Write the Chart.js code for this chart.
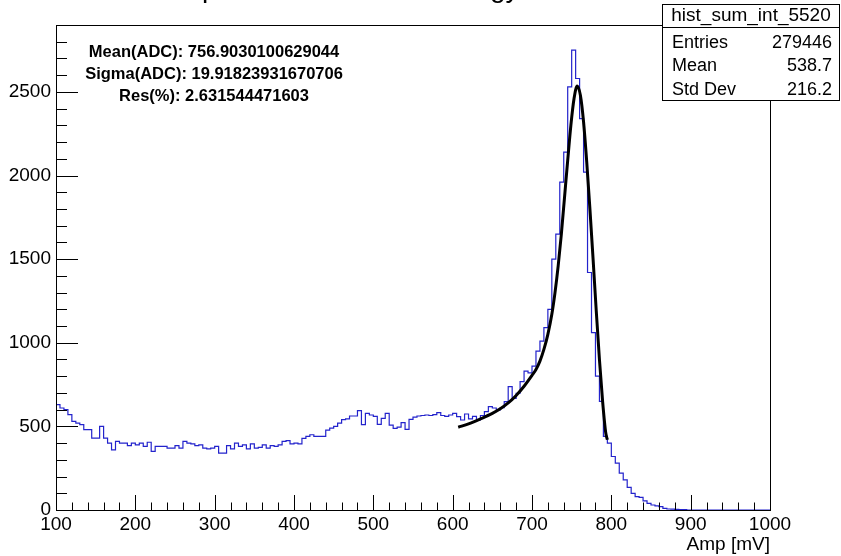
<!DOCTYPE html>
<html>
<head>
<meta charset="utf-8">
<script src="https://cdn.jsdelivr.net/npm/chart.js@4.4.1/dist/chart.umd.min.js"></script>
<style>
  html, body { margin: 0; padding: 0; background: #fff; }
</style>
</head>
<body>
<canvas id="c" width="841" height="556"></canvas>
<script>
// histogram: 5 mV bins starting at 100 mV, counts
const binStart = 100;
const binWidth = 5;
const counts = [
  680, 630, 610, 600, 570, 530, 520, 510, 480, 480,   // 100-145
  430, 430, 500, 430, 400, 360, 410, 400, 400, 385,   // 150-195
  400, 390, 400, 380, 405, 350, 380, 380, 380, 370,   // 200-245
  370, 385, 370, 410, 400, 395, 385, 390, 370, 365,   // 250-295
  370, 380, 340, 340, 385, 365, 400, 380, 390, 365,   // 300-345
  395, 370, 375, 390, 370, 385, 380, 390, 410, 415,   // 350-395
  395, 400, 395, 428, 440, 450, 440, 440, 440, 478,   // 400-445
  490, 500, 520, 540, 545, 562, 562, 594, 510, 578,   // 450-495
  568, 560, 512, 548, 578, 508, 488, 495, 522, 482,   // 500-545
  542, 555, 562, 565, 568, 565, 570, 582, 565, 560,   // 550-595
  568, 578, 558, 538, 574, 545, 560, 538, 565, 588,   // 600-645
  618, 610, 598, 612, 648, 738, 668, 698, 768, 830,   // 650-695
  820, 860, 950, 1010, 1090, 1200, 1500, 1650, 1960, 2140, // 700-745
  2530, 2750, 2580, 2340, 2020, 1420, 1060, 800, 650, 440, // 750-795
  400, 320, 280, 220, 180, 135, 100, 80, 75, 55,      // 800-845
  40, 30, 25, 20, 10, 6, 5, 4, 3, 2,                  // 850-895
  0, 0, 0, 0, 0, 0, 0, 0, 0, 0,                       // 900-945
  0, 0, 0, 0, 0, 0, 0, 0, 0, 0                        // 950-995
];

// fitted curve
const fitAmp = [607, 620, 635, 650, 660, 670, 680, 690, 700, 705, 710, 715, 720, 725, 729, 733, 737, 741, 745, 749, 753, 757, 761, 765, 769, 773, 777, 781, 785, 789, 793, 795];
const fitVal = [495, 515, 545, 578, 605, 640, 685, 740, 805, 840, 890, 960, 1050, 1170, 1300, 1460, 1650, 1870, 2090, 2300, 2460, 2536, 2480, 2320, 2080, 1800, 1500, 1190, 900, 650, 460, 420];

const xTickLabels = [100, 200, 300, 400, 500, 600, 700, 800, 900, 1000];
const yTickLabels = [0, 500, 1000, 1500, 2000, 2500];

const histName = 'hist_sum_int_5520';
const statsRows = [['Entries', '279446'], ['Mean', '538.7'], ['Std Dev', '216.2']];
const fitNotes = ['Mean(ADC): 756.9030100629044', 'Sigma(ADC): 19.91823931670706', 'Res(%): 2.631544471603'];
const plotTitle = 'Amplitude of the total Energy';

const FONT = "'Liberation Sans', Arial, Helvetica, sans-serif";

const histPoints = counts.map((c, i) => ({ x: binStart + i * binWidth, y: c }));
histPoints.push({ x: binStart + counts.length * binWidth, y: counts[counts.length - 1] });
const fitPoints = fitAmp.map((a, i) => ({ x: a, y: fitVal[i] }));

// ROOT-like frame, inner ticks, stats box and text
const rootFrame = {
  id: 'rootFrame',
  beforeDraw(chart) {
    const c = chart.ctx;
    c.save();
    c.fillStyle = '#fff';
    c.fillRect(0, 0, chart.width, chart.height);
    c.restore();
  },
  afterDraw(chart) {
    const c = chart.ctx;
    const a = chart.chartArea;
    const xs = chart.scales.x, ys = chart.scales.y;
    c.save();
    c.strokeStyle = '#000';
    c.lineWidth = 1;

    // ticks
    c.beginPath();
    for (let v = 100; v <= 1000; v += 20) {
      const px = Math.round(xs.getPixelForValue(v)) + 0.5;
      const len = (v % 100 === 0) ? 15 : 7.5;
      c.moveTo(px, a.bottom);
      c.lineTo(px, a.bottom - len);
    }
    for (let v = 0; v < ys.max; v += 100) {
      const py = Math.round(ys.getPixelForValue(v)) + 0.5;
      const len = (v % 500 === 0) ? 22 : 11;
      c.moveTo(a.left, py);
      c.lineTo(a.left + len, py);
    }
    c.stroke();

    // frame
    c.strokeRect(Math.round(a.left) + 0.5, Math.round(a.top) + 0.5,
      Math.round(a.right - a.left), Math.round(a.bottom - a.top));

    // title, cut by the top edge
    c.fillStyle = '#000';
    c.font = '28px ' + FONT;
    c.textAlign = 'left';
    c.textBaseline = 'alphabetic';
    c.fillText(plotTitle, 160, -3);

    // fit results
    c.font = 'bold 16.5px ' + FONT;
    c.textAlign = 'center';
    c.textBaseline = 'middle';
    fitNotes.forEach((t, i) => c.fillText(t, 214, 52 + i * 22.3));

    // stats box
    c.fillStyle = '#fff';
    c.fillRect(662, 4, 178, 97);
    c.strokeRect(662.5, 4.5, 177, 96);
    c.beginPath();
    c.moveTo(662, 27.5);
    c.lineTo(840, 27.5);
    c.stroke();
    c.fillStyle = '#000';
    c.font = '19px ' + FONT;
    c.textAlign = 'center';
    c.fillText(histName, 751, 16);
    c.font = '18px ' + FONT;
    statsRows.forEach((r, i) => {
      const y = 43 + i * 23.5;
      c.textAlign = 'left';
      c.fillText(r[0], 672, y);
      c.textAlign = 'right';
      c.fillText(r[1], 832, y);
    });
    c.restore();
  }
};

new Chart(document.getElementById('c').getContext('2d'), {
  type: 'line',
  data: {
    datasets: [
      {
        label: 'fit',
        data: fitPoints,
        borderColor: '#000',
        borderWidth: 3,
        pointRadius: 0,
        cubicInterpolationMode: 'monotone',
        fill: false,
        order: 0
      },
      {
        label: histName,
        data: histPoints,
        borderColor: '#2323cc',
        borderWidth: 1.2,
        pointRadius: 0,
        stepped: 'after',
        fill: false,
        order: 1
      }
    ]
  },
  options: {
    responsive: false,
    animation: false,
    events: [],
    layout: { padding: { top: 25, right: 71, left: 0, bottom: 0 } },
    plugins: { legend: { display: false }, tooltip: { enabled: false } },
    scales: {
      x: {
        type: 'linear',
        min: 100,
        max: 1000,
        grid: { display: false, drawTicks: false },
        border: { display: false },
        afterBuildTicks: s => { s.ticks = xTickLabels.map(v => ({ value: v })); },
        afterFit: s => { s.height = 46; },
        ticks: { color: '#000', font: { family: FONT, size: 19 }, padding: 3, maxRotation: 0, autoSkip: false, callback: v => String(v) },
        title: { display: true, text: 'Amp [mV]', align: 'end', color: '#000', font: { family: FONT, size: 19 }, padding: 0 }
      },
      y: {
        type: 'linear',
        min: 0,
        max: 2900,
        grid: { display: false, drawTicks: false },
        border: { display: false },
        afterBuildTicks: s => { s.ticks = yTickLabels.map(v => ({ value: v })); },
        afterFit: s => { s.width = 56; },
        ticks: { color: '#000', font: { family: FONT, size: 19 }, padding: 5, callback: v => String(v) }
      }
    }
  },
  plugins: [rootFrame]
});
</script>
</body>
</html>
